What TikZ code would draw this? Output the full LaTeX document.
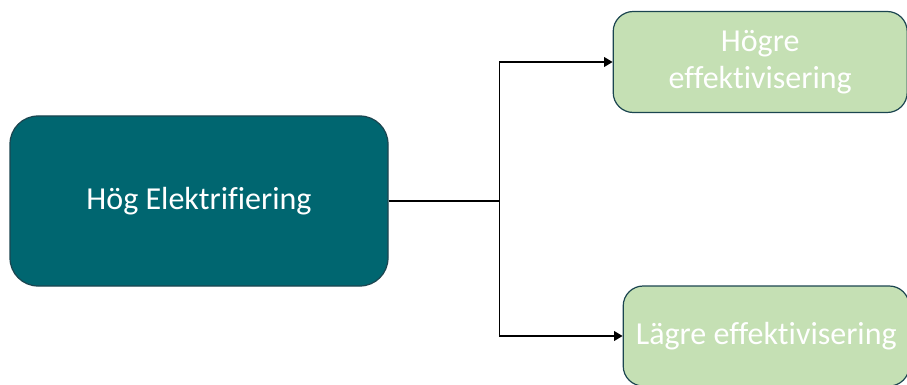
\documentclass[tikz,border=0pt]{standalone}
\usepackage{fontspec}
\setmainfont[Ligatures={NoCommon}]{Carlito}
\usepackage{tikz}
\usetikzlibrary{positioning}
\usetikzlibrary{arrows.meta}

\definecolor{Petrol}{HTML}{006670}
\definecolor{LightGreen}{HTML}{C5E0B4}
\definecolor{EdgeDark}{HTML}{1B4550}

\begin{document}
\begin{tikzpicture}

\useasboundingbox (0,0) rectangle (907pt,-385pt);
\clip (0,0) rectangle (907pt,-385pt);

\node[
	draw=EdgeDark,
	line width=1.2pt,
	fill=Petrol,
	text=white,
	rounded corners=28pt,
	minimum width=378pt,
	minimum height=170pt,
	font=\fontsize{32}{37}\selectfont
] (hog) at (199pt,-201pt) {Hög Elektrifiering};

\coordinate[right=111pt of hog.east] (split);

\node[
	draw=EdgeDark,
	line width=1.2pt,
	fill=LightGreen,
	text=white,
	rounded corners=20pt,
	minimum width=294pt,
	minimum height=101pt,
	align=center,
	font=\fontsize{32}{37}\selectfont,
	right=224pt of hog.east,
	yshift=139pt
] (hogre) {Högre\\effektivisering};

\node[
	draw=EdgeDark,
	line width=1.2pt,
	fill=LightGreen,
	text=white,
	rounded corners=20pt,
	minimum width=286pt,
	minimum height=100pt,
	font=\fontsize{32}{37}\selectfont,
	right=234pt of hog.east,
	yshift=-135pt
] (lagre) {Lägre effektivisering};

% ---

\draw[line width=1.2pt] (hog.east) -- (split);

\draw[line width=1.2pt, -{Triangle[scale=1.4]}] (split) |- (hogre.west);

\draw[line width=1.2pt, -{Triangle[scale=1.4]}] (split) |- (lagre.west);

\end{tikzpicture}
\end{document}
